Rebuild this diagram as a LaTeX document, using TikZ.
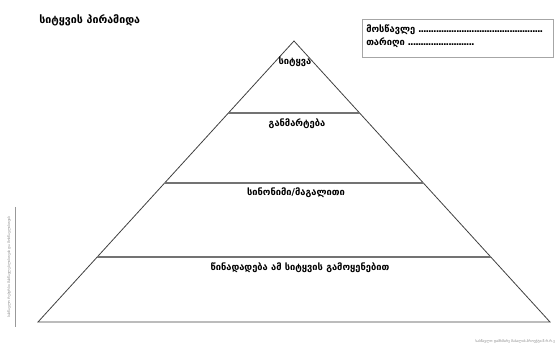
\documentclass[tikz,border=0pt]{standalone}
\usepackage{fontspec}
\setmainfont{DejaVu Sans}
\usepackage{tikz}
\usetikzlibrary{positioning,calc}

\newcommand\dotrow[1]{\hbox to #1{\leaders\hbox to 1.9pt{\hss.\hss}\hfill}}

\tikzset{
  level/.style={font=\bfseries\fontsize{7}{8}\selectfont, inner sep=0.75pt},
  edge/.style={draw=black!75, line width=0.6pt},
  tiny/.style={font=\fontsize{2.6}{3}\selectfont, text=black!50, inner sep=0.5pt}
}

\begin{document}
\begin{tikzpicture}[x=0.75pt,y=0.75pt,yscale=-1,xscale=1]
        \useasboundingbox (0,0) rectangle (558,353);

        %Shape: Triangle corners
        \coordinate (apex) at (294,41);
        \coordinate (bl) at (38,322);
        \coordinate (br) at (550,322);
        \draw [edge] (bl) -- (apex) -- (br) -- cycle ;
        %Straight Lines
        \draw [edge, draw=black!55, line width=0.9pt] ($(apex)!0.2562!(bl)$) -- ($(apex)!0.2562!(br)$) ;
        \draw [edge, draw=black!55, line width=0.9pt] ($(apex)!0.5053!(bl)$) -- ($(apex)!0.5053!(br)$) ;
        \draw [edge, draw=black!55, line width=0.9pt] ($(apex)!0.7687!(bl)$) -- ($(apex)!0.7687!(br)$) ;

        % Text Node
        \node [anchor=west, font=\bfseries\fontsize{8}{10}\selectfont, inner sep=0.75pt] (title) at (38,20) {სიტყვის პირამიდა};
        %Shape: Rectangle
        \draw [draw=black!35, line width=0.6pt] (362,19) rectangle (553,57) ;
        % Text Node
        \node [anchor=west, level] (student) at (365,30) {მოსწავლე \dotrow{94pt}};
        % Text Node
        \node [anchor=west, level] (date) at (365,43) {თარიღი \dotrow{50pt}};

        % Text Node
        \node [level] (word) at (295,62) {სიტყვა};
        % Text Node
        \node [level] (meaning) at (297,124) {განმარტება};
        % Text Node
        \node [level] (synonym) at (296,193) {სინონიმი/მაგალითი};
        % Text Node
        \node [level] (sentence) at (300,268) {წინადადება ამ სიტყვის გამოყენებით};

        %Straight Lines
        \draw [draw=black!40, line width=0.5pt] (15,207) -- (15,327) ;
        % Text Node
        \node [tiny, rotate=90] (side) at (9,267) {სასწავლო რესურსი მასწავლებლისთვის და მოსწავლისთვის};
        % Text Node
        \node [tiny, anchor=east] (foot) at (556,341) {სასწავლო დამხმარე მასალის პროექტი შ.რ.რ.ე};
\end{tikzpicture}
\end{document}
